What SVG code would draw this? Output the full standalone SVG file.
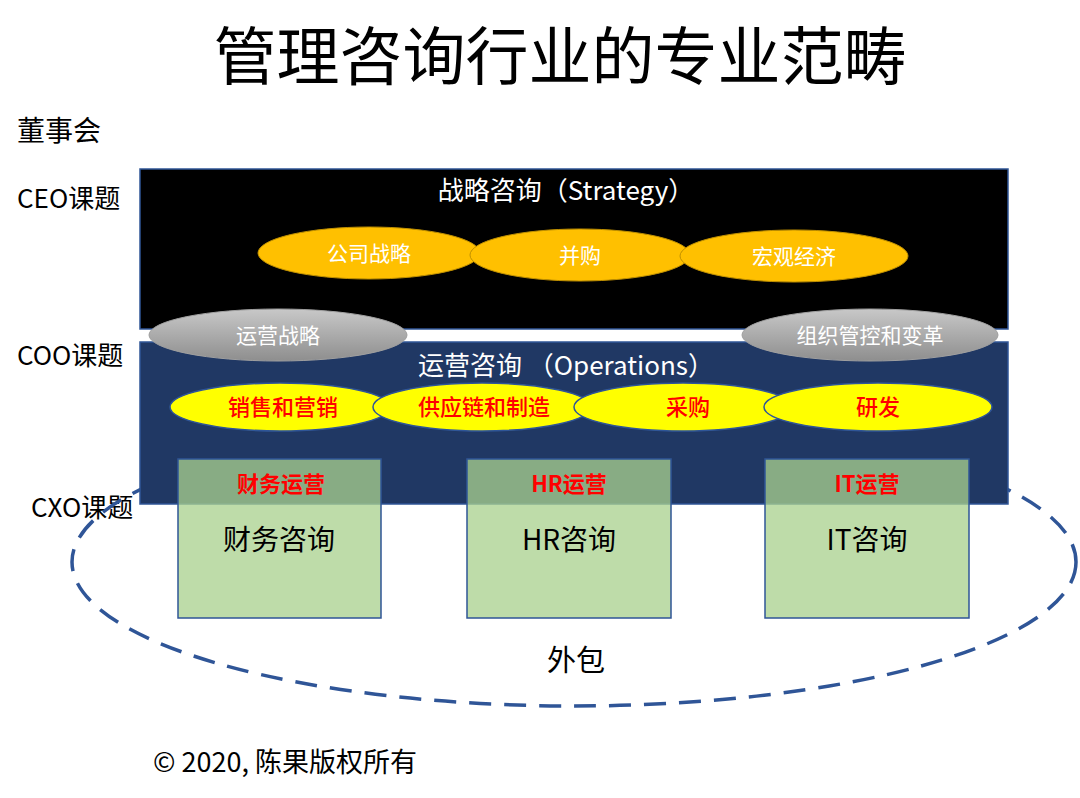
<svg xmlns="http://www.w3.org/2000/svg" width="1080" height="798" viewBox="0 0 1080 798">
<style>
text{font-family:"Noto Sans CJK SC","Liberation Sans",sans-serif;}
.side{font-size:26px;fill:#000;}
.gold{fill:#FFC000;stroke:#C09000;stroke-width:1;}
.goldt{font-size:21px;fill:#fff;text-anchor:middle;}
.gray{fill:url(#gg);stroke:#a0a0a0;stroke-width:1;}
.yel{fill:#FFFF00;stroke:#2F5597;stroke-width:1.5;}
.redt{font-size:22px;font-weight:500;fill:#FF0000;text-anchor:middle;}
.box{fill:#A9D18E;fill-opacity:0.76;stroke:#2F5597;stroke-width:1.5;}
.boxh{font-size:22px;font-weight:bold;fill:#FF0000;text-anchor:middle;}
.boxt{font-size:28px;fill:#000;text-anchor:middle;}
.head{font-size:26px;fill:#fff;text-anchor:middle;}
</style>
<defs>
<linearGradient id="gg" x1="0" y1="0" x2="0" y2="1">
<stop offset="0" stop-color="#C8C8C8"/>
<stop offset="1" stop-color="#8E8E8E"/>
</linearGradient>
</defs>
<rect width="1080" height="798" fill="#fff"/>
<text x="560" y="79" font-size="63" text-anchor="middle" fill="#000">管理咨询行业的专业范畴</text>
<g id="labels">
<text class="side" x="17" y="141" style="font-size:28px">董事会</text>
<text class="side" x="17" y="208">CEO课题</text>
<text class="side" x="17" y="365">COO课题</text>
<text class="side" x="31" y="517">CXO课题</text>
</g>
<g id="outsourcing">
<ellipse cx="574" cy="562" rx="502" ry="144" fill="none" stroke="#2F5597" stroke-width="3.5" stroke-dasharray="22 13"/>
<text x="576" y="671" font-size="29" text-anchor="middle" fill="#000">外包</text>
</g>
<g id="strategy">
<rect x="140" y="169" width="868" height="160" fill="#000" stroke="#2F5597" stroke-width="1.5"/>
<text class="head" x="566" y="200">战略咨询（Strategy）</text>
</g>
<g id="operations">
<rect x="140" y="342" width="868" height="162" fill="#203864" stroke="#2F5597" stroke-width="1.5"/>
<text class="head" x="566" y="375">运营咨询 （Operations）</text>
</g>
<g id="n-corp"><ellipse class="gold" cx="369" cy="253" rx="111" ry="26"/><text class="goldt" x="369" y="261">公司战略</text></g>
<g id="n-ma"><ellipse class="gold" cx="580" cy="255" rx="110" ry="26"/><text class="goldt" x="580" y="263">并购</text></g>
<g id="n-macro"><ellipse class="gold" cx="794" cy="256" rx="114" ry="26"/><text class="goldt" x="794" y="264">宏观经济</text></g>
<g id="n-opstrat"><ellipse class="gray" cx="278" cy="335" rx="129" ry="26"/><text class="goldt" x="278" y="343">运营战略</text></g>
<g id="n-org"><ellipse class="gray" cx="870" cy="335" rx="128" ry="26"/><text class="goldt" x="870" y="343">组织管控和变革</text></g>
<g id="n-sales"><ellipse class="yel" cx="280" cy="407" rx="110" ry="24"/><text class="redt" x="283" y="415">销售和营销</text></g>
<g id="n-supply"><ellipse class="yel" cx="482" cy="407" rx="109" ry="24"/><text class="redt" x="484" y="415">供应链和制造</text></g>
<g id="n-purchase"><ellipse class="yel" cx="683" cy="407" rx="109" ry="24"/><text class="redt" x="688" y="415">采购</text></g>
<g id="n-rd"><ellipse class="yel" cx="878" cy="407" rx="114" ry="24"/><text class="redt" x="878" y="415">研发</text></g>
<g id="n-fin"><rect class="box" x="178" y="459" width="203" height="159"/><text class="boxh" x="281" y="492">财务运营</text><text class="boxt" x="279" y="550">财务咨询</text></g>
<g id="n-hr"><rect class="box" x="467" y="459" width="204" height="159"/><text class="boxh" x="569" y="492">HR运营</text><text class="boxt" x="569" y="550">HR咨询</text></g>
<g id="n-it"><rect class="box" x="765" y="459" width="204" height="159"/><text class="boxh" x="867" y="492">IT运营</text><text class="boxt" x="867" y="550">IT咨询</text></g>
<g id="connectors"></g>
<text x="153" y="772" font-size="27" fill="#000">© 2020, 陈果版权所有</text>
</svg>
